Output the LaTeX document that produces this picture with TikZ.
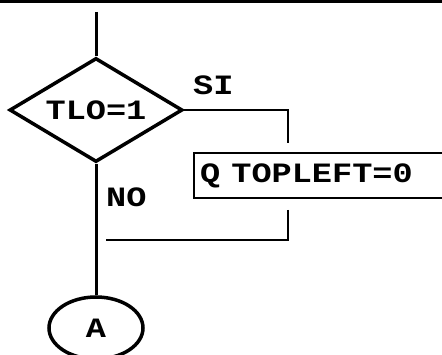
\documentclass[tikz,border=0pt]{standalone}
\usepackage{fontspec}
\usepackage{graphicx}
\usetikzlibrary{shapes.geometric, positioning}
\newfontfamily\dotfont{Liberation Mono}
\newcommand{\dm}[1]{\scalebox{1.2}[1]{\dotfont\bfseries #1}}

\begin{document}
\begin{tikzpicture}[
    x=1pt, y=-1pt,
    decision/.style={diamond, draw, line width=3.5pt, minimum width=173pt, minimum height=104pt, aspect=1.66, inner sep=0pt, font=\fontsize{28}{28}\selectfont},
    block/.style={rectangle, draw, line width=2pt, minimum width=270pt, minimum height=45pt, text width=258pt, align=left, inner xsep=6pt, font=\fontsize{28}{28}\selectfont},
    connector/.style={ellipse, draw, line width=3.5pt, minimum width=94pt, minimum height=62pt, inner sep=0pt, font=\fontsize{28}{28}\selectfont},
    line/.style={line width=2.5pt},
    label/.style={inner sep=0pt, font=\fontsize{28}{28}\selectfont}
]
\useasboundingbox (0,0) rectangle (442,355);

% frame edge at the top
\draw[line width=3pt] (0,2) -- (442,2);

\coordinate (entry) at (96,12);
\node[decision] (tlo) at (96,110) {\dm{TLO=1}};
\node[block, anchor=north west] (topleft) at (193,152) {\dm{Q TOPLEFT=0}};
\node[connector] (endA) at (96,328) {\dm{A}};

\coordinate (siend) at (288,143);
\coordinate (backtop) at (288,210);
\coordinate (backend) at (106,240);

\draw[line width=3pt] (entry) -- (tlo.north);
\draw[line] (tlo.east) -| (siend);
\draw[line] (backtop) |- (backend);
\draw[line width=3pt] (tlo.south) -- (endA.north);

\node[label, anchor=west] (si) at (193,85) {\dm{SI}};
\node[label, anchor=west] (no) at (106,197) {\dm{NO}};

\end{tikzpicture}
\end{document}
